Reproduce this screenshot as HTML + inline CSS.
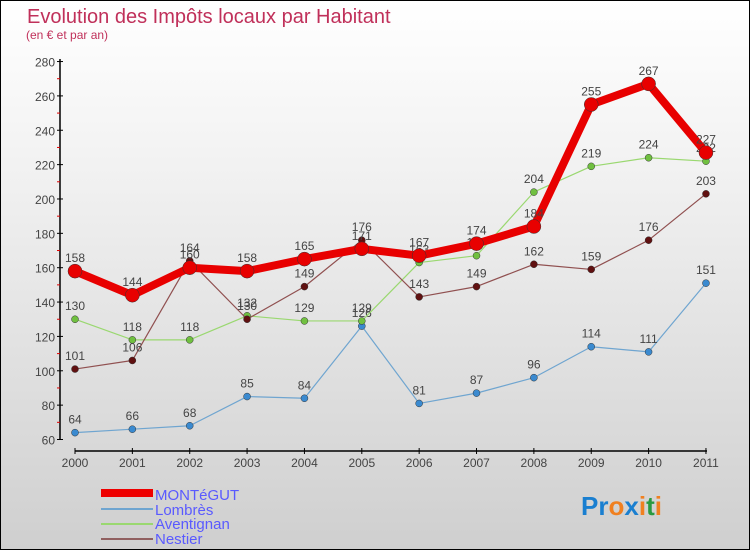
<!DOCTYPE html>
<html><head><meta charset="utf-8"><style>
body{margin:0}
#c{position:relative;width:748px;height:548px;border:1px solid #000;background:linear-gradient(#fff,#f2f2f2 30%,#cfcfcf);font-family:"Liberation Sans",sans-serif;overflow:hidden}
</style></head><body>
<div id="c">
<svg id="s" width="748" height="548" xmlns="http://www.w3.org/2000/svg">
<text x="26" y="22" font-size="20" fill="#c0305a">Evolution des Impôts locaux par Habitant</text>
<text x="25" y="38" font-size="12" fill="#c0305a">(en € et par an)</text>
<g id="axes"></g><g id="series"></g>
<g>
<rect x="100" y="488" width="52" height="8" fill="#e00"/>
<text x="154" y="499" font-size="15" fill="#5a5aff">MONTéGUT</text>
<rect x="100" y="507" width="52" height="2" fill="#6fa5d0"/>
<text x="154" y="514" font-size="15" fill="#5a5aff">Lombrès</text>
<rect x="100" y="522" width="52" height="2" fill="#9ad870"/>
<text x="154" y="528" font-size="15" fill="#5a5aff">Aventignan</text>
<rect x="100" y="537" width="52" height="2" fill="#906060"/>
<text x="154" y="543" font-size="15" fill="#5a5aff">Nestier</text>
</g>
<text x="580" y="514" font-size="26" font-weight="bold"><tspan fill="#1a7fd0">Pr</tspan><tspan fill="#f08020">o</tspan><tspan fill="#1a7fd0">x</tspan><tspan fill="#f08020">i</tspan><tspan fill="#2a9a40">t</tspan><tspan fill="#f08020">i</tspan></text>
</svg></div>
<script>
const years=[2000,2001,2002,2003,2004,2005,2006,2007,2008,2009,2010,2011];
const yTicks=[60,80,100,120,140,160,180,200,220,240,260,280];
const montegut=[158,144,160,158,165,171,167,174,184,255,267,227];
const lombres=[64,66,68,85,84,126,81,87,96,114,111,151];
const aventignan=[130,118,118,132,129,129,163,167,204,219,224,222];
const nestier=[101,106,164,130,149,176,143,149,162,159,176,203];
const NS="http://www.w3.org/2000/svg";
const X=i=>74+i*57.36, Y=v=>438.5-(v-60)*34.36/20;
function mk(t,a,p){const e=document.createElementNS(NS,t);for(const k in a)e.setAttribute(k,a[k]);p.appendChild(e);return e;}
const ax=document.getElementById('axes');
let yl=mk('line',{x1:59,y1:58,x2:59,y2:439,stroke:'#000','stroke-width':1.5},ax);


yTicks.forEach(v=>{
 mk('line',{x1:56,y1:Y(v),x2:62,y2:Y(v),stroke:'#000'},ax);
 if(v<280)mk('line',{x1:56,y1:Y(v+10),x2:59,y2:Y(v+10),stroke:'#d00'},ax);
 const t=mk('text',{x:54,y:Y(v)+5,'font-size':12,fill:'#444','text-anchor':'end'},ax);t.textContent=v;
 
 
});
let xl=mk('line',{x1:74,y1:450,x2:706,y2:450,stroke:'#000','stroke-width':1.5},ax);


years.forEach((y,i)=>{
 mk('line',{x1:X(i),y1:447,x2:X(i),y2:453,stroke:'#000'},ax);
 const t=mk('text',{x:X(i),y:466,'font-size':12,fill:'#444','text-anchor':'middle'},ax);t.textContent=y;
 
 
});
const sg=document.getElementById('series');
function draw(d,name,color,dot,w,r){
 const g=mk('g',{},sg);
 
 
 const pts=d.map((v,i)=>X(i)+','+Y(v)).join(' ');
 mk('polyline',{points:pts,fill:'none',stroke:color,'stroke-width':w,'stroke-linejoin':'round'},g);
 d.forEach((v,i)=>{
  const c=mk('circle',{cx:X(i),cy:Y(v),r:r,fill:dot,stroke:'#333','stroke-width':0.5},g);
  
  
  const t=mk('text',{x:X(i),y:Y(v)-9,'font-size':12,fill:'#444','text-anchor':'middle'},g);t.textContent=v;
  
  
 });
}
draw(lombres,'lombres','#6fa5d0','#3a8ad0',1.2,3.5);
draw(aventignan,'aventignan','#9ad870','#70c040',1.2,3.5);
draw(nestier,'nestier','#905050','#601010',1.2,3.5);
draw(montegut,'montegut','#e80000','#e80000',8,7);
</script>
</body></html>
